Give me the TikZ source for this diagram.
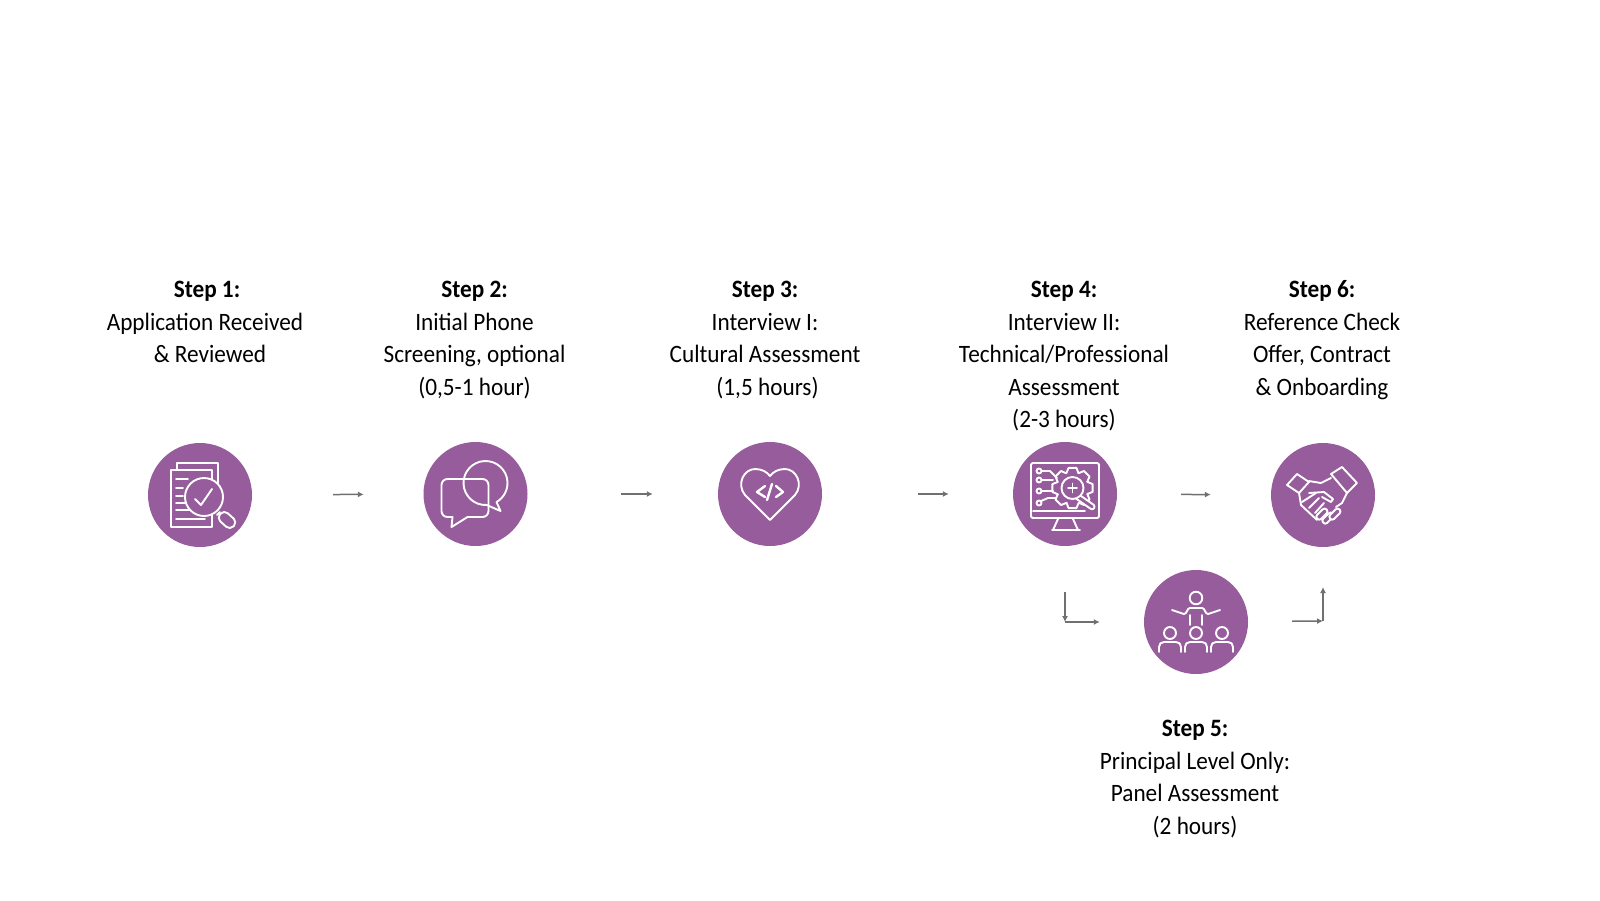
\documentclass[tikz,border=0pt]{standalone}
\usepackage{fontspec}
\setmainfont{Carlito}[FakeStretch=0.93]
\usetikzlibrary{arrows.meta}
\definecolor{stepcolor}{HTML}{965C9C}
\definecolor{flowcolor}{HTML}{6F716F}
\tikzset{
	stepcircle/.style={circle,fill=stepcolor,minimum size=104pt,inner sep=0pt},
	steptext/.style={align=center,font=\fontsize{25}{32.5}\selectfont,text=black,anchor=north},
	iconline/.style={white,line width=1.9pt,line cap=round,line join=round},
	flowarrow/.style={-{Latex[length=6pt,width=6pt]},flowcolor,line width=1.5pt}
}
\begin{document}
\begin{tikzpicture}[x=1pt,y=1pt,yscale=-1]
	\useasboundingbox (0,0) rectangle (1600,900);
	
	% Circles
	\node[stepcircle] (stepone) at (200,495) {};
	\node[stepcircle] (steptwo) at (475.5,494) {};
	\node[stepcircle] (stepthree) at (770,494) {};
	\node[stepcircle] (stepfour) at (1065,494) {};
	\node[stepcircle] (stepfive) at (1196,622) {};
	\node[stepcircle] (stepsix) at (1323,495) {};
	
	% Texts
	\node[steptext] (textone) at (205,278) {\hspace*{4pt}\textbf{Step 1:}\\Application Received\\\hspace*{10pt}\& Reviewed};
	\node[steptext] (texttwo) at (474.5,278) {\textbf{Step 2:}\\Initial Phone\\Screening, optional\\(0,5-1 hour)};
	\node[steptext] (textthree) at (765,278) {\textbf{Step 3:}\\Interview I:\\Cultural Assessment\\\hspace*{5pt}(1,5 hours)};
	\node[steptext] (textfour) at (1064,278) {\textbf{Step 4:}\\Interview II:\\Technical/Professional\\Assessment\\(2-3 hours)};
	\node[steptext] (textsix) at (1322,277) {\textbf{Step 6:}\\Reference Check\\Offer, Contract\\\& Onboarding};
	\node[steptext] (textfive) at (1195,717) {\textbf{Step 5:}\\Principal Level Only:\\Panel Assessment\\(2 hours)};
	
	% Arrows
	\coordinate (bendone) at (1065,622);
	\coordinate (bendtwo) at (1323,621);
	\coordinate (endtwo) at (1323,587);
	\draw[flowarrow,shorten <=81pt,shorten >=59.5pt] (stepone) -- (steptwo);
	\draw[flowarrow,shorten <=93pt,shorten >=65pt] (steptwo) -- (stepthree);
	\draw[flowarrow,shorten <=96pt,shorten >=64pt] (stepthree) -- (stepfour);
	\draw[flowarrow,shorten <=64pt,shorten >=60pt] (stepfour) -- (stepsix);
	\draw[flowarrow,shorten <=46pt] (stepfour) -- (bendone);
	\draw[flowarrow,shorten >=44pt] (bendone) -- (stepfive);
	\draw[flowarrow,shorten <=44pt] (stepfive) -- (bendtwo);
	\draw[flowarrow] (bendtwo) -- (endtwo);
	
	% Icon: document and lens
	\begin{scope}[shift={(stepone)}]
		\draw[iconline] (-23,-25) -- (-23,-32) -- (18,-32) -- (18,-12);
		\draw[iconline] (12,-15) -- (12,-25) -- (-29,-25) -- (-29,32) -- (12,32) -- (12,20);
		\foreach \ytick/\xend in {-16/-12,-7/-17,1/-17,8/-15,15/-9,24/5}
			\draw[iconline] (-24,\ytick) -- (\xend,\ytick);
		\draw[iconline,fill=stepcolor] (4,2) circle (19);
		\draw[iconline] (-5,4) -- (1,10) -- (12,-6);
		\draw[iconline] (17,20) -- (20,17);
		\draw[iconline,rounded corners=5,rotate around={42:(27,25)}] (18,19.5) rectangle (36,30.5);
	\end{scope}
	
	% Icon: speech bubbles
	\begin{scope}[shift={(steptwo)}]
		\draw[iconline] (-8,23) [rounded corners=6] -- (13,23) -- (13,-15) -- (-34,-15) -- (-34,23) [sharp corners] -- (-23,23) -- (-24,33) -- cycle;
		\draw[iconline] (10,-11) ++(87:22) arc[start angle=87,end angle=420,radius=22] -- (25,17) -- cycle;
	\end{scope}
	
	% Icon: heart
	\begin{scope}[shift={(stepthree)}]
		\draw[iconline] (0,26) -- (-25,1) .. controls (-34,-10) and (-26,-25) .. (-15,-25) .. controls (-8,-25) and (-3,-22) .. (0,-18) .. controls (3,-22) and (8,-25) .. (15,-25) .. controls (26,-25) and (34,-10) .. (25,1) -- cycle;
		\draw[iconline,line width=2.4pt] (-5,-8) -- (-13,-2) -- (-5,3);
		\draw[iconline,line width=2.4pt] (6,-8) -- (13,-2) -- (6,3);
		\draw[iconline,line width=2.4pt] (2,-10) -- (-3,6);
	\end{scope}
	
	% Icon: monitor, gear and lens
	\begin{scope}[shift={(stepfour)}]
		\draw[iconline,rounded corners=1.5] (-34,-31) rectangle (34,24);
		\draw[iconline] (-32,17) -- (20,17);
		\draw[iconline] (-7,25) -- (-12,36) (8,25) -- (13,36) (-13,36) -- (15,36);
		\foreach \ydot in {-23,-14,-3,9}
			\draw[iconline] (-26,\ydot) circle (2.5);
		\draw[iconline] (-23,-23) -- (-15,-23) -- (-8,-16);
		\draw[iconline] (-23,-14) -- (-12,-14);
		\draw[iconline] (-23,-3) -- (-12,-3);
		\draw[iconline] (-24,7) -- (-17,4) -- (-9,4);
		\begin{scope}[shift={(7.5,-6)}]
			\foreach \tooth in {0,45,...,315}
				\draw[iconline] (\tooth-23:16) -- (\tooth-11:20.5) -- (\tooth+11:20.5) -- (\tooth+22:16);
		\end{scope}
		\draw[iconline,fill=stepcolor,rounded corners=2.5,rotate around={35:(16,5)}] (8,2.5) rectangle (32,7.5);
		\draw[iconline,fill=stepcolor] (7.5,-6) circle (11);
		\draw[iconline] (3,-6) -- (12,-6) (7.5,-10.5) -- (7.5,-1.5);
	\end{scope}
	
	% Icon: panel
	\begin{scope}[shift={(stepfive)}]
		\draw[iconline] (0,-24) circle (6.3);
		\draw[iconline] (-24,-12) -- (-12,-8) .. controls (-9,-8) and (-9,-14) .. (-6,-14) -- (6,-14) .. controls (9,-14) and (9,-8) .. (12,-8) -- (24,-12);
		\draw[iconline] (-6,-7) -- (-6,3) (6,-7) -- (6,3);
		\foreach \xhead in {-26,0,26} {
			\draw[iconline] (\xhead,11) circle (6);
			\draw[iconline] (\xhead-11,30) -- (\xhead-11,25) .. controls (\xhead-11,22) and (\xhead-9,20) .. (\xhead-6,20) -- (\xhead+6,20) .. controls (\xhead+9,20) and (\xhead+11,22) .. (\xhead+11,25) -- (\xhead+11,30);
		}
	\end{scope}
	
	% Icon: handshake
	\begin{scope}[shift={(stepsix)}]
		\draw[iconline] (-36,-10) -- (-26,-21) -- (-14,-13) -- (-24,-2) -- cycle;
		\draw[iconline] (8,-21) -- (19,-28) -- (34,-12) -- (24,-2) -- cycle;
		\draw[iconline] (-14,-14) -- (-2,-12) -- (8,-17);
		\draw[iconline] (-24,-2) -- (-22,10) -- (-6,25);
		\draw[iconline] (24,-2) -- (19,8) -- (13,12);
		\draw[iconline] (-21,7) -- (-7,-2) (-14,13) -- (-4,3) (-8,18) -- (1,8);
		\draw[iconline] (-14,-2) -- (1,-3) -- (10,4) -- (8,7) -- (-1,2);
		\foreach \xcap/\ycap in {-5/23,1/27,8/23}
			\draw[iconline,fill=stepcolor,rounded corners=2.5,rotate around={-45:(\xcap,\ycap)}] (\xcap-1,\ycap-2.8) rectangle (\xcap+12,\ycap+2.8);
	\end{scope}
	
\end{tikzpicture}
\end{document}
